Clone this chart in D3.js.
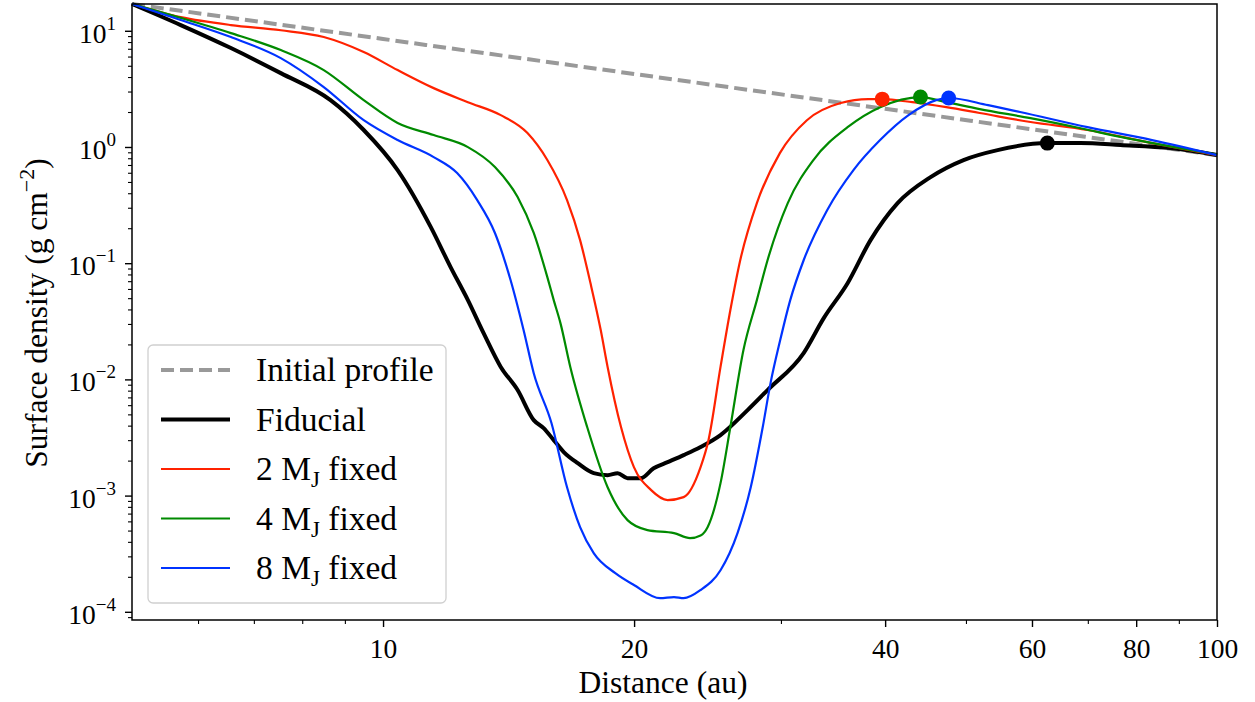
<!DOCTYPE html>
<html>
<head>
<meta charset="utf-8">
<script src="https://cdn.jsdelivr.net/npm/d3@7"></script>
<style>
  body { margin: 0; background: #fff; }
  svg text { font-family: "Liberation Serif", "Tinos", "Times New Roman", Times, "DejaVu Serif", serif; fill: #000; }
</style>
</head>
<body>
<script>
// data: [distance (au), surface density (g cm^-2)]
var initialProfile = [[5, 17], [10, 8.5], [20, 4.25], [40, 2.13], [100, 0.85]];

var fiducial = [[5, 17], [5.72, 11.2], [6.57, 7.1], [7.54, 4.32], [8.65, 2.53], [9.48, 1.40],
  [10.41, 0.633], [11.41, 0.2045], [12.05, 0.0926], [12.64, 0.0481], [13.2, 0.025], [13.84, 0.0128],
  [14.5, 0.0081], [15.16, 0.00446], [15.58, 0.00381], [16.02, 0.0030], [16.47, 0.00237], [17.12, 0.0019],
  [17.89, 0.00156], [18.59, 0.0015], [19.11, 0.00156], [19.64, 0.00141], [20.36, 0.00141], [21.11, 0.00172],
  [21.94, 0.00194], [22.93, 0.00223], [24.03, 0.00262], [25.39, 0.00332], [27.36, 0.00544], [28.91, 0.00809],
  [31.94, 0.01684], [33.75, 0.0335], [36.06, 0.0672], [38.42, 0.158], [41.4, 0.329], [45.35, 0.551],
  [49.67, 0.772], [54.56, 0.94], [62.6, 1.08], [68.6, 1.08], [76.6, 1.04], [87.9, 0.978], [100, 0.852]];

var fixed2 = [[5, 17], [5.72, 13.1], [6.57, 11.2], [7.54, 10.1], [8.49, 8.83], [9.48, 6.56], [10.41, 4.59],
  [11.5, 3.21], [12.64, 2.43], [13.84, 1.88], [14.9, 1.317], [15.74, 0.772], [16.62, 0.349], [17.23, 0.158],
  [17.73, 0.0674], [18.24, 0.0266], [18.59, 0.0128], [19.29, 0.00389], [19.99, 0.00176], [20.95, 0.00112],
  [21.94, 0.000915], [22.93, 0.00097], [24.03, 0.00176], [24.56, 0.003], [25.39, 0.0128], [26.09, 0.0395],
  [26.81, 0.106], [28.07, 0.329], [29.91, 0.886], [32.23, 1.70], [35.38, 2.39], [38.19, 2.58], [39.68, 2.58],
  [43.12, 2.43], [47.36, 2.2], [51.93, 1.96], [59.75, 1.64], [69.93, 1.40], [83.57, 1.08], [100, 0.852]];

var fixed4 = [[5, 17], [5.72, 12.9], [6.57, 9.55], [7.54, 6.82], [8.49, 4.59], [9.48, 2.53], [10.41, 1.61],
  [11.5, 1.266], [12.64, 0.998], [13.62, 0.672], [14.5, 0.371], [15.16, 0.182], [15.74, 0.0759], [16.02, 0.0481],
  [16.32, 0.0305], [16.77, 0.0128], [17.57, 0.00389], [18.59, 0.00118], [19.64, 0.000615], [20.75, 0.000505],
  [22.33, 0.000476], [23.34, 0.000431], [24.03, 0.000454], [24.5, 0.000535], [25.39, 0.00128], [26.09, 0.00389],
  [27.05, 0.0179], [28.07, 0.0481], [28.91, 0.106], [30.57, 0.329], [32.81, 0.772], [36.06, 1.48], [39.45, 2.2],
  [44.1, 2.69], [47.36, 2.43], [51.93, 2.12], [59.75, 1.77], [68.59, 1.45], [76.6, 1.22], [100, 0.86]];

var fixed8 = [[5, 17], [5.72, 12.4], [6.57, 8.83], [7.54, 5.82], [8.49, 3.28], [9.48, 1.70], [10.41, 1.147],
  [11.5, 0.818], [12.27, 0.596], [12.97, 0.349], [13.62, 0.182], [14.22, 0.0716], [14.74, 0.0266], [15.16, 0.0113],
  [15.92, 0.00421], [16.62, 0.00118], [17.23, 0.000535], [17.89, 0.00032], [18.99, 0.000215], [19.99, 0.00017],
  [21.49, 0.000131], [22.33, 0.000134], [22.93, 0.000131], [24.03, 0.000154], [25.39, 0.000228], [26.61, 0.000476],
  [27.6, 0.00118], [28.53, 0.00389], [29.15, 0.00929], [29.94, 0.0218], [30.78, 0.0481], [31.94, 0.106],
  [34.08, 0.286], [36.65, 0.633], [39.45, 1.147], [42.67, 1.88], [46.06, 2.53], [47.67, 2.64], [53.15, 2.29],
  [58.06, 2.0], [69.93, 1.48], [83.57, 1.147], [100, 0.852]];

// gap edge markers: [distance, density]
var edgePoints = [[39.68, 2.58], [44.1, 2.69], [47.67, 2.64], [62.6, 1.08]];

var xTicks = [10, 20, 40, 60, 80, 100];
var xMinor = [6, 7, 8, 9, 30, 50, 70, 90];
var yTickExp = [-4, -3, -2, -1, 0, 1];

var legendNames = ["Initial profile", "Fiducial", "2", "4", "8"];

var width = 1255, height = 702;
var plot = {left: 132, right: 1217, top: 4, bottom: 620};
var serif = "'Liberation Serif', Tinos, 'Times New Roman', Times, 'DejaVu Serif', serif";

var x = d3.scaleLog().domain([5, 100]).range([plot.left, plot.right]);
var y = d3.scaleLog().domain([8.5e-5, 17]).range([plot.bottom, plot.top]);

var svg = d3.select("body").append("svg")
    .attr("width", width)
    .attr("height", height)
    .attr("font-family", serif);

var series = [
  {data: initialProfile, color: "#999999", width: 4, dash: "13,6"},
  {data: fiducial, color: "#000000", width: 4, dash: null},
  {data: fixed2, color: "#ff2200", width: 2.2, dash: null},
  {data: fixed4, color: "#008a00", width: 2.2, dash: null},
  {data: fixed8, color: "#0033ff", width: 2.2, dash: null}
];
var markerColors = ["#ff2200", "#008a00", "#0033ff", "#000000"];

var line = d3.line()
    .x(function(d) { return x(d[0]); })
    .y(function(d) { return y(d[1]); })
    .curve(d3.curveMonotoneX);

// the curves
series.forEach(function(s) {
  svg.append("path")
      .datum(s.data)
      .attr("d", line)
      .attr("fill", "none")
      .attr("stroke", s.color)
      .attr("stroke-width", s.width)
      .attr("stroke-dasharray", s.dash)
      .attr("stroke-linejoin", "round");
});

svg.selectAll(".edge")
    .data(edgePoints)
  .enter().append("circle")
    .attr("class", "edge")
    .attr("cx", function(d) { return x(d[0]); })
    .attr("cy", function(d) { return y(d[1]); })
    .attr("r", 7.5)
    .attr("fill", function(d, i) { return markerColors[i]; });

// x axis
var xMajorAxis = svg.append("g")
    .attr("transform", "translate(0," + plot.bottom + ")")
    .call(d3.axisBottom(x).tickValues(xTicks).tickFormat(d3.format("d")).tickSize(7).tickPadding(11));
xMajorAxis.attr("font-family", serif);
xMajorAxis.select(".domain").remove();
xMajorAxis.selectAll("line").attr("stroke-width", 1.4);
xMajorAxis.selectAll("text").attr("font-size", 27.5).attr("dy", "0.71em")
    .style("font-family", serif);

var xMinorAxis = svg.append("g")
    .attr("transform", "translate(0," + plot.bottom + ")")
    .call(d3.axisBottom(x).tickValues(xMinor).tickFormat("").tickSize(4));
xMinorAxis.select(".domain").remove();
xMinorAxis.selectAll("line").attr("stroke-width", 1.1);

// y axis
var yMinorVals = [];
d3.range(-5, 2).forEach(function(e) {
  d3.range(2, 10).forEach(function(m) {
    var v = m * Math.pow(10, e);
    if (v >= y.domain()[0] && v <= y.domain()[1]) yMinorVals.push(v);
  });
});

var yMajorAxis = svg.append("g")
    .attr("transform", "translate(" + plot.left + ",0)")
    .call(d3.axisLeft(y).tickValues(yTickExp.map(function(e) { return Math.pow(10, e); }))
      .tickFormat("").tickSize(7));
yMajorAxis.select(".domain").remove();
yMajorAxis.selectAll("line").attr("stroke-width", 1.4);

var yMinorAxis = svg.append("g")
    .attr("transform", "translate(" + plot.left + ",0)")
    .call(d3.axisLeft(y).tickValues(yMinorVals).tickFormat("").tickSize(4));
yMinorAxis.select(".domain").remove();
yMinorAxis.selectAll("line").attr("stroke-width", 1.1);

yTickExp.forEach(function(e) {
  var t = svg.append("text")
      .attr("x", 116)
      .attr("y", y(Math.pow(10, e)) + 12)
      .attr("text-anchor", "end")
      .attr("font-size", 27.5);
  t.append("tspan").text("10");
  t.append("tspan")
      .attr("font-size", 19)
      .attr("dy", -13)
      .text(e < 0 ? "\u2212" + (-e) : String(e));
});

// frame
svg.append("rect")
    .attr("x", plot.left)
    .attr("y", plot.top)
    .attr("width", plot.right - plot.left)
    .attr("height", plot.bottom - plot.top)
    .attr("fill", "none")
    .attr("stroke", "#000")
    .attr("stroke-width", 1.5);

// axis labels
svg.append("text")
    .attr("x", 663)
    .attr("y", 693)
    .attr("text-anchor", "middle")
    .attr("font-size", 31.5)
    .text("Distance (au)");

var yl = svg.append("text")
    .attr("transform", "translate(47," + 313 + ") rotate(-90)")
    .attr("text-anchor", "middle")
    .attr("font-size", 31.5);
yl.append("tspan").text("Surface density (g cm");
yl.append("tspan").attr("font-size", 22).attr("dy", -13).text("\u22122");
yl.append("tspan").attr("dy", 13).text(")");

// legend
var legend = svg.append("g");
legend.append("rect")
    .attr("x", 148)
    .attr("y", 345)
    .attr("width", 298)
    .attr("height", 258)
    .attr("rx", 5)
    .attr("fill", "#fff")
    .attr("fill-opacity", 0.8)
    .attr("stroke", "#d0d0d0")
    .attr("stroke-width", 1.3);

legendNames.forEach(function(name, i) {
  var s = series[i];
  var cy = 370 + i * 49.5;
  legend.append("line")
      .attr("x1", 161).attr("x2", 230)
      .attr("y1", cy).attr("y2", cy)
      .attr("stroke", s.color)
      .attr("stroke-width", s.width)
      .attr("stroke-dasharray", s.dash);
  var t = legend.append("text")
      .attr("x", 256)
      .attr("y", cy + 11)
      .attr("font-size", 33.5);
  if (i < 2) {
    t.text(name);
  } else {
    t.append("tspan").text(name + " M");
    t.append("tspan").attr("font-size", 23).attr("dy", 7).text("J");
    t.append("tspan").attr("dy", -7).text(" fixed");
  }
});
</script>
</body>
</html>
